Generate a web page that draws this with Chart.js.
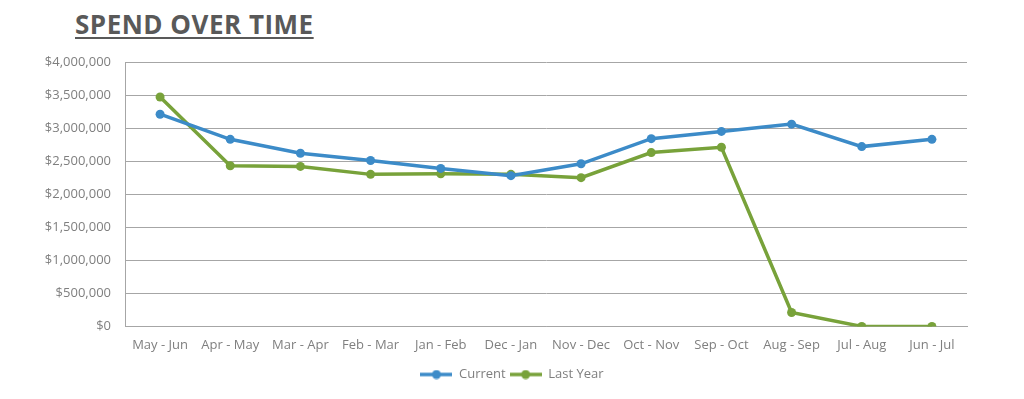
<!DOCTYPE html>
<html>
<head>
<meta charset="utf-8">
<script src="https://cdn.jsdelivr.net/npm/chart.js@4.4.0/dist/chart.umd.min.js"></script>
<style>
  html, body { margin: 0; padding: 0; background: #fff; }
  #wrap { position: relative; width: 1024px; height: 399px; }
  #title {
    position: absolute; left: 75px; top: 6px;
    font-family: "Open Sans", sans-serif; font-weight: 700; font-size: 26px;
    color: #595959; text-decoration: underline; text-underline-offset: 3px;
    text-decoration-thickness: 2px; letter-spacing: 0.5px;
  }
  canvas { position: absolute; left: 0; top: 0; }
</style>
</head>
<body>
<div id="wrap">
  <div id="title">SPEND OVER TIME</div>
  <canvas id="spendChart" width="1024" height="399"></canvas>
</div>
<script>
// chart data
const periods = ['May - Jun', 'Apr - May', 'Mar - Apr', 'Feb - Mar', 'Jan - Feb', 'Dec - Jan',
                 'Nov - Dec', 'Oct - Nov', 'Sep - Oct', 'Aug - Sep', 'Jul - Aug', 'Jun - Jul'];
const currentSpend = [3210000, 2830000, 2620000, 2510000, 2390000, 2280000,
                      2460000, 2840000, 2950000, 3060000, 2720000, 2830000];
const lastYearSpend = [3470000, 2430000, 2420000, 2300000, 2310000, 2300000,
                       2250000, 2630000, 2710000, 210000, 0, 0];

const BLUE = '#3c8bc8';
const GREEN = '#78a23a';

// legend marker: short line with a dot in the middle
function legendMarker(color) {
  const c = document.createElement('canvas');
  c.width = 32; c.height = 10;
  const g = c.getContext('2d');
  g.strokeStyle = color; g.lineWidth = 3.5;
  g.beginPath(); g.moveTo(0, 5); g.lineTo(32, 5); g.stroke();
  g.fillStyle = color;
  g.beginPath(); g.arc(16, 5, 4.5, 0, Math.PI * 2); g.fill();
  return c;
}

const data = {
  labels: periods,
  datasets: [
    {
      label: 'Current',
      data: currentSpend,
      borderColor: BLUE,
      backgroundColor: BLUE,
      borderWidth: 3.5,
      pointRadius: 4.5,
      pointBorderWidth: 0,
      fill: false,
      tension: 0
    },
    {
      label: 'Last Year',
      data: lastYearSpend,
      borderColor: GREEN,
      backgroundColor: GREEN,
      borderWidth: 3.5,
      pointRadius: 4.5,
      pointBorderWidth: 0,
      fill: false,
      tension: 0
    }
  ]
};

const tickFont = { family: '"Open Sans", sans-serif', size: 13 };

const config = {
  type: 'line',
  data: data,
  options: {
    responsive: false,
    animation: false,
    layout: { padding: { top: 62, right: 0, left: 0, bottom: 8 } },
    plugins: {
      tooltip: { enabled: false },
      legend: {
        position: 'bottom',
        labels: {
          usePointStyle: true,
          pointStyleWidth: 32,
          color: '#7f7f7f',
          font: tickFont,
          padding: 4,
          generateLabels: chart => chart.data.datasets.map((ds, i) => ({
            text: ds.label,
            pointStyle: legendMarker(ds.borderColor),
            fontColor: '#7f7f7f',
            datasetIndex: i,
            lineWidth: 0,
            hidden: false
          }))
        }
      }
    },
    scales: {
      x: {
        offset: true,
        grid: { display: false, drawTicks: false },
        border: { color: '#a6a6a6', width: 1 },
        ticks: { color: '#7f7f7f', font: tickFont, padding: 11, maxRotation: 0, autoSkip: false }
      },
      y: {
        min: 0,
        max: 4000000,
        afterFit: scale => { scale.width = 125; },
        grid: { color: '#a6a6a6', drawTicks: false },
        border: { color: '#a6a6a6', width: 1 },
        ticks: {
          stepSize: 500000,
          color: '#7f7f7f',
          font: tickFont,
          padding: 14,
          callback: v => '$' + v.toLocaleString('en-US')
        }
      },
      // empty right-side spacer so the plot ends where the reference does
      spacer: {
        position: 'right',
        afterFit: scale => { scale.width = 57; },
        grid: { display: false, drawTicks: false },
        border: { display: false },
        ticks: { display: false }
      }
    }
  }
};

const ctx = document.getElementById('spendChart').getContext('2d');
const spendChart = new Chart(ctx, config);
</script>
</body>
</html>
